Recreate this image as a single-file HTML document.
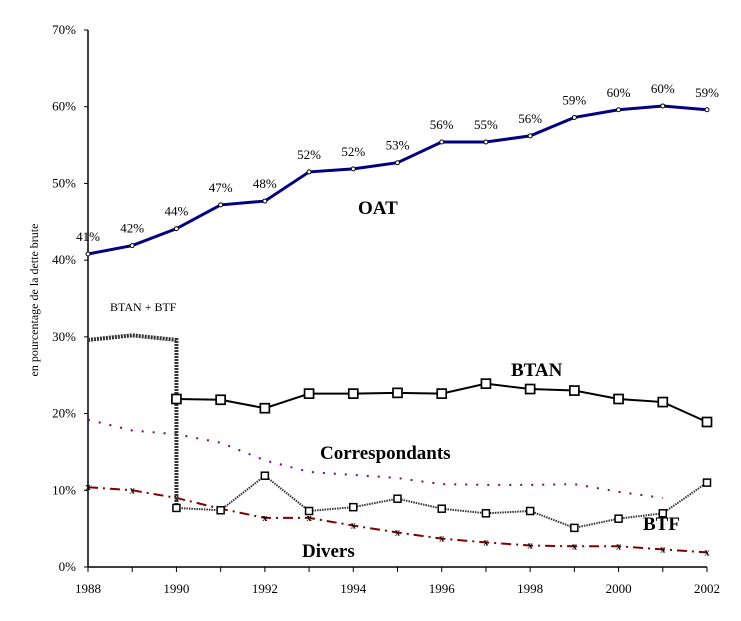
<!DOCTYPE html>
<html><head><meta charset="utf-8"><style>
body{margin:0;background:#fff}
svg{display:block;font-family:"Liberation Serif",serif}
</style></head><body>
<svg id="c" width="741" height="621" viewBox="0 0 741 621"></svg>
<script>
const years=[1988,1989,1990,1991,1992,1993,1994,1995,1996,1997,1998,1999,2000,2001,2002];
const yTicks=[0,10,20,30,40,50,60,70];
const xTicks=[1988,1990,1992,1994,1996,1998,2000,2002];
const oat=[40.8,41.9,44.1,47.2,47.7,51.5,51.9,52.7,55.4,55.4,56.2,58.6,59.6,60.1,59.6];
const oatLabels=["41%","42%","44%","47%","48%","52%","52%","53%","56%","55%","56%","59%","60%","60%","59%"];
const btanBtf=[29.6,30.2,29.6];
const btan=[null,null,21.9,21.8,20.7,22.6,22.6,22.7,22.6,23.9,23.2,23.0,21.9,21.5,18.9];
const btf=[null,null,7.7,7.4,11.9,7.3,7.8,8.9,7.6,7.0,7.3,5.1,6.3,7.0,11.0];
const corr=[19.2,17.8,17.3,16.2,13.9,12.4,12.0,11.6,10.8,10.7,10.7,10.8,9.8,9.0,null];
const divers=[10.4,10.0,9.0,7.6,6.4,6.4,5.4,4.5,3.7,3.2,2.8,2.7,2.7,2.3,1.9];

const svg=document.getElementById('c');
const NS='http://www.w3.org/2000/svg';
const X=y=>88+(y-1988)*(707-88)/14;
const Y=v=>567-v*(567-30)/70;
function mk(tag,attrs,parent){const e=document.createElementNS(NS,tag);for(const k in attrs)e.setAttribute(k,attrs[k]);(parent||svg).appendChild(e);return e;}
function txt(s,x,y,attrs){const t=mk('text',Object.assign({x:x,y:y},attrs));t.textContent=s;return t;}
function pts(arr,idxs){return idxs.filter(i=>arr[i]!=null).map(i=>X(years[i])+','+Y(arr[i])).join(' ');}
const all=years.map((_,i)=>i);

const ya=mk('line',{x1:88,y1:30,x2:88,y2:567,stroke:'#000','stroke-width':1.5});

const xa=mk('line',{x1:88,y1:567,x2:707,y2:567,stroke:'#000','stroke-width':1.5});

yTicks.forEach(v=>{
  mk('line',{x1:84,y1:Y(v),x2:88,y2:Y(v),stroke:'#000'});
  const t=txt(v+'%',76,Y(v)+4,{'font-size':13,'text-anchor':'end'});
  
});
years.forEach(y=>mk('line',{x1:X(y),y1:567,x2:X(y),y2:572,stroke:'#000'}));
xTicks.forEach(y=>{
  const t=txt(String(y),X(y),593,{'font-size':13,'text-anchor':'middle'});
  
});
const yt=txt('en pourcentage de la dette brute',0,0,{'font-size':12,'text-anchor':'middle',transform:'translate(38,300) rotate(-90)'});


const cl=mk('polyline',{points:pts(corr,all),fill:'none',stroke:'#800080','stroke-width':2,'stroke-dasharray':'2 9'});

const dl=mk('polyline',{points:pts(divers,all),fill:'none',stroke:'#800000','stroke-width':2,'stroke-dasharray':'10 5 2 5'});

divers.forEach((v,i)=>{const m=txt('x',X(years[i]),Y(v)+3,{'font-size':10,'font-weight':'bold','text-anchor':'middle'});
  });
const bb=mk('polyline',{points:pts(btanBtf,[0,1,2])+' '+X(1990)+','+Y(btf[2]),fill:'none',stroke:'#333','stroke-width':4,'stroke-dasharray':'2 1'});

const bl=mk('polyline',{points:pts(btf,all),fill:'none',stroke:'#333','stroke-width':2,'stroke-dasharray':'1.5 1'});

btf.forEach((v,i)=>{if(v==null)return;const r=mk('rect',{x:X(years[i])-3.5,y:Y(v)-3.5,width:7,height:7,fill:'#fff',stroke:'#000','stroke-width':1.5});
  });
const tl=mk('polyline',{points:pts(btan,all),fill:'none',stroke:'#000','stroke-width':2});

btan.forEach((v,i)=>{if(v==null)return;const r=mk('rect',{x:X(years[i])-4.5,y:Y(v)-4.5,width:9,height:9,fill:'#fff',stroke:'#000','stroke-width':1.7});
  });
const ol=mk('polyline',{points:pts(oat,all),fill:'none',stroke:'#000080','stroke-width':3});

oat.forEach((v,i)=>{const c=mk('circle',{cx:X(years[i]),cy:Y(v),r:2,fill:'#fff',stroke:'#000','stroke-width':1});
  
  const t=txt(oatLabels[i],X(years[i]),Y(v)-13,{'font-size':13,'text-anchor':'middle'});
  });

[['BTAN + BTF',110,311,12,'normal','btan-btf-label'],['OAT',358,214,19,'bold','oat-label'],['BTAN',511,376,19,'bold','btan-label'],
 ['Correspondants',320,459,19,'bold','correspondants-label'],['BTF',643,530,19,'bold','btf-label'],['Divers',302,557,19,'bold','divers-label']]
.forEach(a=>{const t=txt(a[0],a[1],a[2],{'font-size':a[3],'font-weight':a[4]});
  });
</script>
</body></html>
